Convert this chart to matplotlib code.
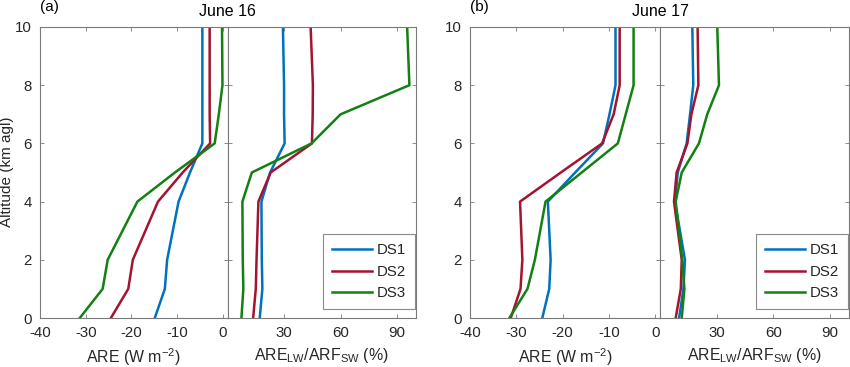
import matplotlib
matplotlib.use("Agg")
import matplotlib.pyplot as plt

plt.rcParams['font.family'] = ['Liberation Sans', 'DejaVu Sans']
plt.rcParams['mathtext.fontset'] = 'custom'
plt.rcParams['mathtext.rm'] = 'Liberation Sans'

# Altitude levels (km agl)
alt = [0, 1, 2, 4, 5, 6, 7, 8, 10]

# June 16 – ARE (W m-2)
a_are_ds1 = [-14.9, -12.7, -12.2, -9.7, -7.2, -4.5, -4.5, -4.5, -4.5]
a_are_ds2 = [-24.5, -20.7, -19.7, -14.2, -8.8, -2.8, -2.9, -2.9, -2.9]
a_are_ds3 = [-31.3, -26.3, -25.2, -18.7, -10.5, -1.8, -0.9, -0.1, -0.2]
# June 16 – ARE_LW / ARF_SW (%)
a_rat_ds1 = [17.1, 18.5, 18.2, 18.0, 22.6, 30.3, 30.0, 30.0, 29.4]
a_rat_ds2 = [13.6, 15.0, 15.4, 16.4, 22.9, 44.8, 45.2, 45.3, 44.1]
a_rat_ds3 = [7.4, 8.4, 8.1, 7.9, 12.9, 44.6, 60.0, 96.5, 95.3]

# June 17 – ARE (W m-2)
b_are_ds1 = [-24.4, -22.9, -22.6, -23.2, -17.3, -11.3, -9.9, -8.6, -8.6]
b_are_ds2 = [-31.2, -29.1, -28.7, -29.2, -20.4, -11.5, -9.0, -7.7, -7.7]
b_are_ds3 = [-31.5, -27.6, -26.0, -23.7, -15.9, -8.1, -6.4, -4.7, -4.7]
# June 17 – ARE_LW / ARF_SW (%)
b_rat_ds1 = [10.1, 12.4, 13.2, 7.9, 9.4, 14.1, 15.9, 17.6, 17.1]
b_rat_ds2 = [8.3, 11.0, 11.5, 7.4, 8.8, 14.5, 16.6, 20.3, 19.9]
b_rat_ds3 = [11.5, 12.9, 11.8, 8.3, 11.5, 20.6, 25.0, 31.2, 30.3]

series_names = ['DS1', 'DS2', 'DS3']
colors = ['#0072BD', '#A2142F', '#138013']

are_xticks = [-40, -30, -20, -10, 0]
rat_xticks = [30, 60, 90]
yticks = [0, 2, 4, 6, 8, 10]

W, H = 850, 367
fig = plt.figure(figsize=(W / 100, H / 100), dpi=100)

def px_axes(x0, x1, y_top, y_bot):
    return fig.add_axes([x0 / W, 1 - y_bot / H, (x1 - x0) / W, (y_bot - y_top) / H])

spine_c = '#7a7a7a'
text_c = '#262626'
lab_fs = 11.4

def style(ax):
    for s in ax.spines.values():
        s.set_color(spine_c)
        s.set_linewidth(0.8)
    ax.tick_params(direction='in', top=True, right=True, length=3, width=0.6,
                   color=spine_c, labelcolor=text_c, labelsize=10.8, pad=6)
    ax.set_ylim(0, 10)
    ax.set_yticks(yticks)

def panel(xl, xm, xr, are_list, rat_list, title, letter, ylabel):
    axL = px_axes(xl, xm, 27, 318)
    axR = px_axes(xm, xr, 27, 318)
    for vals, c, n in zip(are_list, colors, series_names):
        axL.plot(vals, alt, color=c, lw=1.8, label=n)
    lines = []
    for vals, c, n in zip(rat_list, colors, series_names):
        lines += axR.plot(vals, alt, color=c, lw=1.8, label=n)
    style(axL)
    style(axR)
    axL.set_xlim(-40, 1)
    axL.set_xticks(are_xticks)
    axL.set_xticklabels([str(v) for v in are_xticks])
    axR.set_xlim(0, 100)
    axR.set_xticks(rat_xticks)
    axR.set_yticklabels([])
    axL.set_xlabel(r'ARE (W m$^{\mathregular{-2}}$)', fontsize=lab_fs, color=text_c, labelpad=4)
    axR.set_xlabel(r'ARE$_{\mathregular{LW}}$/ARF$_{\mathregular{SW}}$ (%)', fontsize=lab_fs,
                   color=text_c, labelpad=4)
    if ylabel:
        fig.text(7.5 / W, 1 - 172 / H, 'Altitude (km agl)', rotation=90, ha='center',
                 va='center', fontsize=11, color=text_c)
    leg = axR.legend(handles=lines, loc='lower right', bbox_to_anchor=(0.995, 0.03),
                     borderaxespad=0, fancybox=False, framealpha=1, edgecolor='#8a8a8a',
                     fontsize=10.8, handlelength=2.7, handletextpad=0.3,
                     labelspacing=0.5, borderpad=0.6)
    leg.get_frame().set_linewidth(0.8)
    for t in leg.get_texts():
        t.set_color(text_c)
    fig.text(xm / W, 1 - 12 / H, title, ha='center', va='center', fontsize=11.5, color='black')
    fig.text(xl / W, 1 - 7 / H, letter, ha='left', va='center', fontsize=11, color='black')

panel(40, 227.5, 416,
      [a_are_ds1, a_are_ds2, a_are_ds3],
      [a_rat_ds1, a_rat_ds2, a_rat_ds3],
      'June 16', '(a)', True)
panel(470, 660, 849,
      [b_are_ds1, b_are_ds2, b_are_ds3],
      [b_rat_ds1, b_rat_ds2, b_rat_ds3],
      'June 17', '(b)', False)

fig.savefig('out.png', dpi=100)
